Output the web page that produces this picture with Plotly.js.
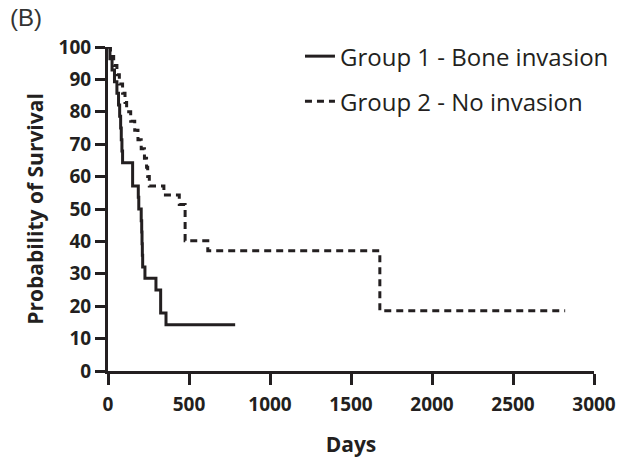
<!DOCTYPE html>
<html>
<head>
<meta charset="utf-8">
<script src="https://cdn.plot.ly/plotly-3.0.1.min.js"></script>
<style>html,body{margin:0;padding:0;background:#fff;}#chart{width:621px;height:458px;}</style>
</head>
<body>
<div id="chart"></div>
<script>
// Group 1 - Bone invasion (Kaplan-Meier steps)
var g1Days = [0, 12, 25, 40, 55, 65, 72, 78, 82, 86, 90, 152, 187, 190, 205, 208, 210, 212, 214, 228, 296, 325, 358, 785];
var g1Surv = [100, 96.4, 92.9, 89.3, 85.7, 82.1, 78.6, 75, 71.4, 67.9, 64.3, 57.1, 53.6, 50, 46.4, 42.9, 39.3, 35.7, 32.1, 28.6, 25, 17.9, 14.3, 14.3];
// Group 2 - No invasion
var g2Days = [0, 15, 35, 55, 70, 90, 105, 115, 140, 165, 185, 205, 225, 238, 245, 255, 345, 440, 476, 616, 1678, 2822];
var g2Surv = [100, 97.1, 94.3, 91.4, 88.6, 85.7, 82.9, 80, 77.1, 74.3, 71.4, 68.6, 65.7, 62.9, 60, 57.1, 54.3, 51.4, 40.2, 37.1, 18.6, 18.6];
var seriesNames = ["Group 1 - Bone invasion", "Group 2 - No invasion"];
var xTicks = [0, 500, 1000, 1500, 2000, 2500, 3000];
var yTicks = [0, 10, 20, 30, 40, 50, 60, 70, 80, 90, 100];

var ink = "#231f20";
var fam = "'Open Sans', 'Noto Sans', sans-serif";
var traces = [
  {x: g1Days, y: g1Surv, name: seriesNames[0], mode: "lines", legendgroup: "a",
   line: {shape: "hv", color: ink, width: 3}},
  {x: g2Days, y: g2Surv, name: seriesNames[1], mode: "lines", legendgroup: "b",
   line: {shape: "hv", color: ink, width: 3, dash: "7px,5px"}}
];
var tickFont = {family: fam, size: 19, color: ink, weight: 700};
var layout = {
  width: 621, height: 458,
  margin: {l: 108, r: 27, t: 47, b: 87, autoexpand: false},
  paper_bgcolor: "#fff", plot_bgcolor: "#fff",
  showlegend: true,
  legend: {x: 0.395, xanchor: "left", y: 1.04, yanchor: "top", tracegroupgap: 11,
           font: {family: fam, size: 24, color: ink},
           bgcolor: "rgba(0,0,0,0)"},
  xaxis: {range: [0, 3000], tickvals: xTicks, ticktext: xTicks.map(String),
          showgrid: false, zeroline: false, showline: true, linecolor: ink, linewidth: 3,
          ticks: "outside", ticklen: 11, tickwidth: 3, tickcolor: ink,
          ticklabelstandoff: 3,
          tickfont: tickFont,
          title: {text: "Days", font: {family: fam, size: 21, color: ink, weight: 700}, standoff: 22}},
  yaxis: {range: [0, 100], tickvals: yTicks, ticktext: yTicks.map(String),
          showgrid: false, zeroline: false, showline: true, linecolor: ink, linewidth: 3,
          ticks: "outside", ticklen: 10, tickwidth: 3, tickcolor: ink,
          tickfont: tickFont,
          title: {text: "Probability of Survival", font: {family: fam, size: 21, color: ink, weight: 700}, standoff: 10}},
  annotations: [{text: "(B)", xref: "paper", yref: "paper", x: -0.205, y: 1.09, xanchor: "left", yanchor: "middle",
                 showarrow: false, font: {family: "'Liberation Sans', Arial, sans-serif", size: 24, color: "#333"}}]
};
Plotly.newPlot("chart", traces, layout, {displayModeBar: false, staticPlot: true});
</script>
</body>
</html>
